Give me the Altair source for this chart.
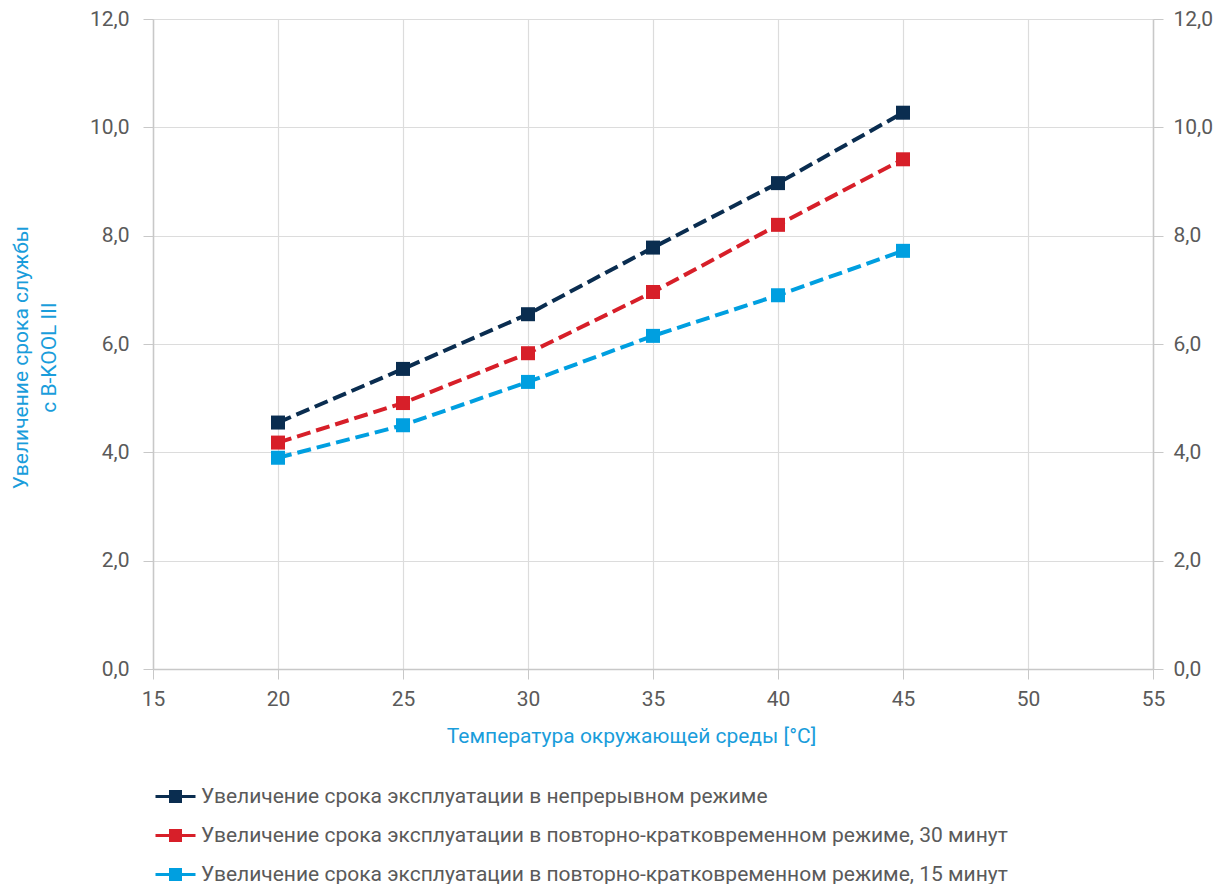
import altair as alt
import pandas as pd

temps = [20, 25, 30, 35, 40, 45]
series_names = [
    "Увеличение срока эксплуатации в непрерывном режиме",
    "Увеличение срока эксплуатации в повторно-кратковременном режиме, 30 минут",
    "Увеличение срока эксплуатации в повторно-кратковременном режиме, 15 минут",
]
continuous = [4.55, 5.54, 6.55, 7.78, 8.97, 10.27]
intermittent_30 = [4.18, 4.91, 5.83, 6.96, 8.20, 9.41]
intermittent_15 = [3.90, 4.50, 5.30, 6.15, 6.90, 7.72]
colors = ["#0a2d50", "#d71f29", "#009fe0"]
y_ticks = [0, 2, 4, 6, 8, 10, 12]
x_ticks = [15, 20, 25, 30, 35, 40, 45, 50, 55]

rows = []
for name, vals in zip(series_names, [continuous, intermittent_30, intermittent_15]):
    for t, v in zip(temps, vals):
        rows.append({"temp": t, "value": v, "series": name})
df = pd.DataFrame(rows)

FONT = "Roboto"
FS = 21
LABEL_COLOR = "#5a5a5a"
TITLE_COLOR = "#1a9ddb"
fmt = "replace(format(datum.value, '.1f'), '.', ',')"

legend_path = (
    "M-2,-0.15 L2,-0.15 L2,0.15 L-2,0.15 Z "
    "M-0.65,-0.65 L0.65,-0.65 L0.65,0.65 L-0.65,0.65 Z"
)

legend = alt.Legend(
    title=None,
    orient="none",
    legendX=12,
    legendY=767,
    direction="vertical",
    symbolType=legend_path,
    symbolSize=400,
    symbolStrokeWidth=0,
    labelFont=FONT,
    labelFontSize=FS,
    labelColor=LABEL_COLOR,
    labelOffset=15,
    rowPadding=17,
    padding=0,
    labelLimit=1000,
)

color = alt.Color(
    "series:N",
    scale=alt.Scale(domain=series_names, range=colors),
    sort=series_names,
    legend=legend,
)

x_enc = alt.X(
    "temp:Q",
    scale=alt.Scale(domain=[15, 55], nice=False),
    axis=alt.Axis(
        values=x_ticks,
        title="Температура окружающей среды [°C]",
        titleColor=TITLE_COLOR,
        titleFont=FONT,
        titleFontSize=FS,
        titleFontWeight="normal",
        titlePadding=16,
        titleX=478,
        labelFont=FONT,
        labelFontSize=FS,
        labelColor=LABEL_COLOR,
        labelPadding=9,
        labelFlush=False,
        tickSize=10,
        tickColor="#c8c8c8",
        domainColor="#c8c8c8",
        domainWidth=1.5,
        grid=True,
        gridColor="#dcdcdc",
        gridWidth=1.2,
    ),
)

lines = alt.Chart(df).mark_line(strokeDash=[14, 6], strokeWidth=4).encode(
    x=x_enc,
    y=alt.Y(
        "value:Q",
        scale=alt.Scale(domain=[0, 12], nice=False),
        axis=alt.Axis(
            values=y_ticks,
            orient="left",
            labelExpr=fmt,
            title=["Увеличение срока службы", "с B-KOOL III"],
            titleColor=TITLE_COLOR,
            titleFont=FONT,
            titleFontSize=FS,
            titleFontWeight="normal",
            titlePadding=30,
            titleLineHeight=28,
            titleY=338,
            labelFont=FONT,
            labelFontSize=FS,
            labelColor=LABEL_COLOR,
            labelPadding=14,
            labelFlush=False,
            tickSize=10,
            tickColor="#c8c8c8",
            domainColor="#c8c8c8",
            domainWidth=1.5,
            grid=True,
            gridColor="#dcdcdc",
            gridWidth=1.2,
        ),
    ),
    color=color,
    detail="series:N",
)

points = alt.Chart(df).mark_point(shape="square", filled=True, size=196, opacity=1).encode(
    x=x_enc,
    y=alt.Y(
        "value:Q",
        scale=alt.Scale(domain=[0, 12], nice=False),
        axis=alt.Axis(
            values=y_ticks,
            orient="right",
            labelExpr=fmt,
            title=None,
            labelFont=FONT,
            labelFontSize=FS,
            labelColor=LABEL_COLOR,
            labelPadding=10,
            labelFlush=False,
            tickSize=10,
            tickColor="#c8c8c8",
            domainColor="#c8c8c8",
            domainWidth=1.5,
            grid=False,
        ),
    ),
    color=color,
)

chart = (
    alt.layer(lines, points)
    .resolve_scale(y="independent")
    .properties(
        width=1000,
        height=650,
        autosize=alt.AutoSizeParams(type="none"),
        padding={"left": 145, "top": 11, "right": 61, "bottom": 215},
    )
    .configure_view(stroke=None)
)

chart.save("out.html", embed_options={"renderer": "svg", "actions": False})
